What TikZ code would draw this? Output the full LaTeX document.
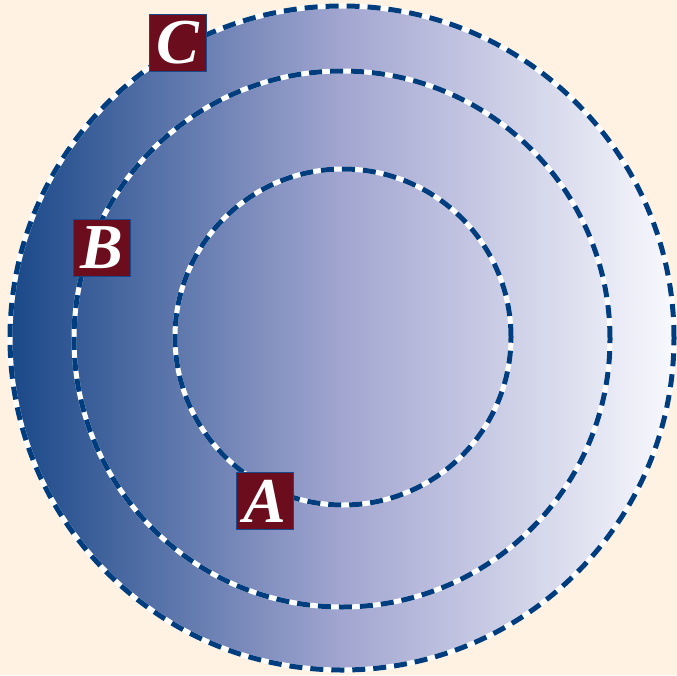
\documentclass[tikz,border=0pt]{standalone}
\usepackage{fontspec}
\setmainfont{Liberation Serif}
\usepackage{tikz}
\usetikzlibrary{positioning}
\definecolor{peach}{HTML}{FFF2E3}
\definecolor{ringblue}{HTML}{003D7E}
\definecolor{leftblue}{HTML}{1A4888}
\definecolor{midlilac}{HTML}{A2A6D0}
\definecolor{rightwhite}{HTML}{F8F9FD}
\definecolor{labelred}{HTML}{6B0D1D}
\begin{document}
\begin{tikzpicture}[
        x=1pt, y=-1pt,
        ring/.style={circle, inner sep=0pt, draw=ringblue, line width=5pt,
            dash pattern=on 13pt off 8pt,
            preaction={draw=white, line width=5pt, solid}},
        tag/.style={rectangle, minimum size=57pt, inner sep=0pt, fill=labelred,
            draw=leftblue, line width=1.5pt, text=white,
            font=\fontsize{64}{64}\selectfont\bfseries\itshape}
    ]
    
    % background and shaded disc
    \fill[peach] (0,0) rectangle (677,675);
    \useasboundingbox (0,0) rectangle (677,675);
    \coordinate (c) at (342,338);
    \shade[left color=leftblue, right color=rightwhite, middle color=midlilac] (c) circle (332pt);
    
    % dashed rings
    \node[ring, minimum size=664pt] (outer) at (c) {};
    \node[ring, minimum size=536pt] (middle) at (342,339) {};
    \node[ring, minimum size=336pt] (inner) at (343,337) {};
    
    % labels
    \node[tag] (labC) at (178,43) {C};
    \node[tag] (labB) at (102,248) {B};
    \node[tag] (labA) at (265,501) {A};
    
\end{tikzpicture}
\end{document}
